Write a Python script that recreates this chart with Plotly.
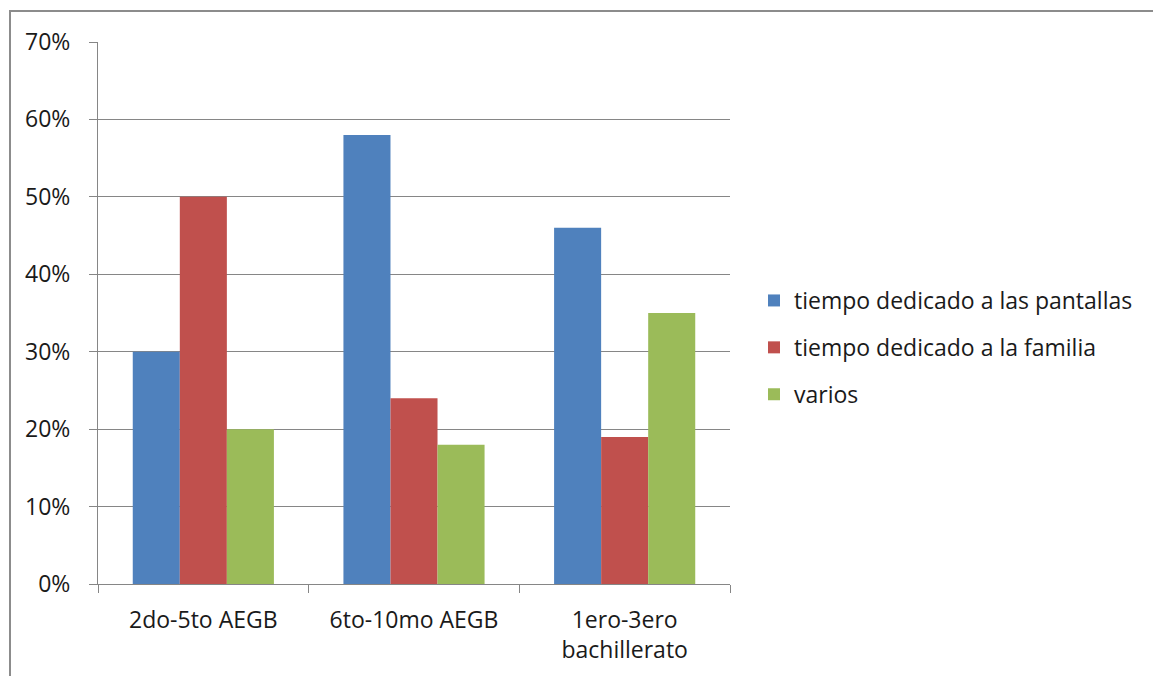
import plotly.graph_objects as go

categories = ["2do-5to AEGB", "6to-10mo AEGB", "1ero-3ero<br>bachillerato"]
series_names = ["tiempo dedicado a las pantallas", "tiempo dedicado a la familia", "varios"]
pantallas = [0.30, 0.58, 0.46]
familia = [0.50, 0.24, 0.19]
varios = [0.20, 0.18, 0.35]
colors = ["#4F81BD", "#C0504D", "#9BBB59"]
y_ticks = [0, 0.1, 0.2, 0.3, 0.4, 0.5, 0.6, 0.7]
y_ticklabels = ["0%", "10%", "20%", "30%", "40%", "50%", "60%", "70%"]

# page has 8px body margin; figure coords = page coords - 8
OFF = 8
W, H = 1161 - OFF, 676 - OFF
L, T = 98 - OFF, 42 - OFF
R = W - (730 - OFF)
B = H - (584 - OFF)

fig = go.Figure()
for i, (name, vals) in enumerate(zip(series_names, [pantallas, familia, varios])):
    fig.add_trace(go.Bar(x=categories, y=vals, name=name, marker_color=colors[i],
                         marker_line_width=0, legendgroup=f"g{i}"))

pw, ph = W - L - R, H - T - B
def px_x(p):
    return (p - OFF - L) / pw
def px_y(p):
    return (H - B - (p - OFF)) / ph

border = "#8c8c8c"
shapes = [
    dict(type="line", xref="paper", yref="paper", x0=px_x(9), x1=px_x(1170), y0=px_y(11), y1=px_y(11),
         line=dict(color=border, width=2)),
    dict(type="line", xref="paper", yref="paper", x0=px_x(10), x1=px_x(10), y0=px_y(11), y1=px_y(690),
         line=dict(color=border, width=2)),
]

fig.update_layout(
    width=W, height=H,
    margin=dict(l=L, r=R, t=T, b=B, autoexpand=False),
    paper_bgcolor="white", plot_bgcolor="white",
    barmode="group", bargap=0.33, bargroupgap=0,
    font=dict(family="Open Sans, sans-serif", size=23, color="#1a1a1a"),
    showlegend=True,
    legend=dict(x=px_x(754), y=px_y(279), xanchor="left", yanchor="top",
                font=dict(size=23), tracegroupgap=14, bgcolor="rgba(0,0,0,0)"),
    shapes=shapes,
    xaxis=dict(showline=True, linecolor="#868686", linewidth=1, ticks="outside",
               tickson="boundaries", ticklen=8, tickcolor="#868686", showgrid=False,
               ticklabelstandoff=15),
    yaxis=dict(range=[0, 0.7], tickvals=y_ticks, ticktext=y_ticklabels,
               showline=True, linecolor="#868686", linewidth=1, ticks="outside",
               ticklen=8, tickcolor="#868686", showgrid=True, gridcolor="#868686",
               gridwidth=1, zeroline=False, ticklabelstandoff=14),
)
fig.write_html("out.html")
